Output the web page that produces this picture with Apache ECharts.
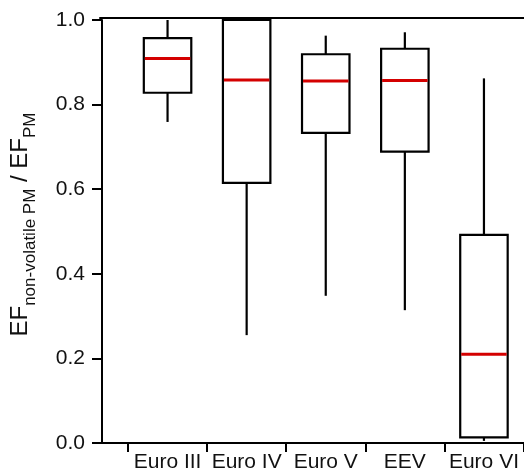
<!DOCTYPE html>
<html>
<head>
<meta charset="utf-8">
<script src="https://cdn.jsdelivr.net/npm/echarts@6/dist/echarts.min.js"></script>
<style>html,body{margin:0;padding:0;background:#fff}#c{width:524px;height:473px}</style>
</head>
<body>
<div id="c"></div>
<script>
var categories = ['Euro III', 'Euro IV', 'Euro V', 'EEV', 'Euro VI'];
var whiskerLow = [0.759, 0.255, 0.348, 0.314, 0.005];
var q1 = [0.828, 0.615, 0.733, 0.689, 0.0135];
var median = [0.909, 0.858, 0.856, 0.857, 0.210];
var q3 = [0.957, 1.0, 0.919, 0.932, 0.492];
var whiskerHigh = [1.0, 1.0, 0.963, 0.971, 0.862];
var yTicks = [0, 0.2, 0.4, 0.6, 0.8, 1.0];

var data = categories.map(function (c, i) {
  return [i, whiskerLow[i], q1[i], median[i], q3[i], whiskerHigh[i]];
});

var FONT = 'Liberation Sans, Arial, sans-serif';
var INK = '#000';

var chart = echarts.init(document.getElementById('c'), null, {renderer: 'canvas'});
chart.setOption({
  animation: false,
  backgroundColor: '#fff',
  grid: [
    {left: 126, right: 0.5, top: 20, bottom: 30, containLabel: false},
    {left: 100, right: 0, top: 18, bottom: 30, containLabel: false}
  ],
  xAxis: [
    {
      type: 'category', gridIndex: 0, data: categories,
      axisLine: {show: true, onZero: false, lineStyle: {color: INK, width: 2}},
      axisTick: {show: true, alignWithLabel: false, interval: 0, length: 9, lineStyle: {color: INK, width: 2}},
      axisLabel: {fontFamily: FONT, fontSize: 21, color: '#111', margin: 9, interval: 0, hideOverlap: false},
      splitLine: {show: false}
    },
    {
      type: 'value', gridIndex: 1, position: 'top', min: 0, max: 1,
      axisLine: {show: true, onZero: false, lineStyle: {color: INK, width: 2}},
      axisTick: {show: false}, axisLabel: {show: false}, splitLine: {show: false}
    },
    {
      type: 'value', gridIndex: 1, position: 'bottom', min: 0, max: 1,
      axisLine: {show: true, onZero: false, lineStyle: {color: INK, width: 2}},
      axisTick: {show: false}, axisLabel: {show: false}, splitLine: {show: false}
    }
  ],
  yAxis: [
    {
      type: 'value', gridIndex: 0, min: yTicks[0], max: yTicks[yTicks.length - 1], interval: 0.2,
      offset: 26,
      axisLine: {show: true, onZero: false, lineStyle: {color: INK, width: 2}},
      axisTick: {show: true, length: 10, lineStyle: {color: INK, width: 2}},
      axisLabel: {fontFamily: FONT, fontSize: 21, color: '#111', margin: 17,
        formatter: function (v) { return v.toFixed(1); }},
      splitLine: {show: false},
      name: '{m|EF}{s|non-volatile PM}{m| / EF}{s|PM}',
      nameLocation: 'middle', nameRotate: 90, nameGap: 63,
      nameTextStyle: {
        padding: [0, 0, 0, 14],
        rich: {
          m: {fontFamily: FONT, fontSize: 24, color: '#111', lineHeight: 38, verticalAlign: 'middle'},
          s: {fontFamily: FONT, fontSize: 17, color: '#111', lineHeight: 17, verticalAlign: 'bottom'}
        }
      }
    },
    {
      type: 'value', gridIndex: 1, min: 0, max: 1, show: false
    }
  ],
  series: [{
    type: 'custom',
    xAxisIndex: 0, yAxisIndex: 0,
    data: data,
    encode: {x: 0, y: [1, 2, 3, 4, 5]},
    renderItem: function (params, api) {
      var i = api.value(0);
      var band = api.size([1, 0])[0];
      var hw = band * 0.3;
      var pLow = api.coord([i, api.value(1)]);
      var pQ1 = api.coord([i, api.value(2)]);
      var pMed = api.coord([i, api.value(3)]);
      var pQ3 = api.coord([i, api.value(4)]);
      var pHigh = api.coord([i, api.value(5)]);
      var x = pQ1[0];
      var lineStyle = {stroke: INK, lineWidth: 2.2, fill: null};
      return {
        type: 'group',
        children: [
          {type: 'line', shape: {x1: x, y1: pHigh[1], x2: x, y2: pQ3[1]}, style: lineStyle},
          {type: 'line', shape: {x1: x, y1: pQ1[1], x2: x, y2: pLow[1]}, style: lineStyle},
          {type: 'rect', shape: {x: x - hw, y: pQ3[1], width: hw * 2, height: pQ1[1] - pQ3[1]},
            style: {stroke: INK, lineWidth: 2.2, fill: 'rgba(255,255,255,0)'}},
          {type: 'line', shape: {x1: x - hw + 1, y1: pMed[1], x2: x + hw - 1, y2: pMed[1]},
            style: {stroke: '#d40000', lineWidth: 3}}
        ]
      };
    }
  }]
});
</script>
</body>
</html>
